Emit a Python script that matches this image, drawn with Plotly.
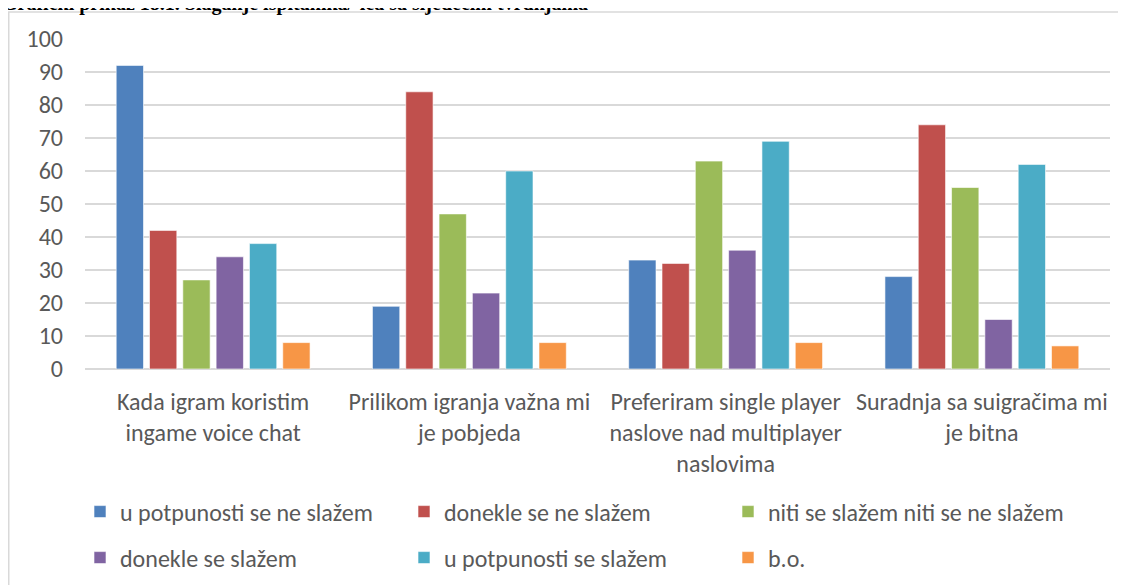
import plotly.graph_objects as go

categories = [
    "Kada igram koristim<br>ingame voice chat",
    "Prilikom igranja važna mi<br>je pobjeda",
    "Preferiram single player<br>naslove nad multiplayer<br>naslovima",
    "Suradnja sa suigračima mi<br>je bitna",
]
series_names = [
    "u potpunosti se ne slažem",
    "donekle se ne slažem",
    "niti se slažem niti se ne slažem",
    "donekle se slažem",
    "u potpunosti se slažem",
    "b.o.",
]
values_u_potpunosti_ne = [92, 19, 33, 28]
values_donekle_ne = [42, 84, 32, 74]
values_niti_niti = [27, 47, 63, 55]
values_donekle_da = [34, 23, 36, 15]
values_u_potpunosti_da = [38, 60, 69, 62]
values_bo = [8, 8, 8, 7]
y_ticks = [0, 10, 20, 30, 40, 50, 60, 70, 80, 90, 100]
title_text = "Grafički prikaz 18.1. Slaganje ispitanika/-ica sa sljedećim tvrdnjama"

all_values = [values_u_potpunosti_ne, values_donekle_ne, values_niti_niti,
              values_donekle_da, values_u_potpunosti_da, values_bo]
colors = ["#4F81BD", "#C0504D", "#9BBB59", "#8064A2", "#4BACC6", "#F79646"]

FONT = "Carlito, 'Liberation Sans Narrow', 'Arial Narrow', Roboto, sans-serif"
GRAY = "#595959"

# page is offset by the 8px body margin; figure coordinates below are page px - 8
W, H = 1118, 577
L, R, T, B = 77, 16, 31, 216
plot_h = H - T - B
plot_w = W - L - R


def py(p):  # figure pixel y -> paper
    return (H - B - p) / plot_h


def px(p):  # figure pixel x -> paper
    return (p - L) / plot_w


legend_cols = [72, 396, 720]
legend_rows = [504, 550]

fig = go.Figure()
legend_layouts = {}
for i, (name, vals, col) in enumerate(zip(series_names, all_values, colors)):
    key = "legend" if i == 0 else f"legend{i + 1}"
    fig.add_trace(go.Bar(
        x=categories, y=vals, name=name,
        marker=dict(color=col, line=dict(color="rgba(255,255,255,0.6)", width=1)),
        legend=key,
    ))
    legend_layouts[key] = dict(
        x=px(legend_cols[i % 3]), xanchor="left",
        y=py(legend_rows[i // 3]), yanchor="middle",
        font=dict(family=FONT, size=24, color=GRAY),
        itemclick=False, itemdoubleclick=False, bgcolor="rgba(0,0,0,0)",
    )

fig.update_layout(
    width=W, height=H,
    margin=dict(l=L, r=R, t=T, b=B, autoexpand=False),
    paper_bgcolor="white", plot_bgcolor="white",
    barmode="group", bargap=0.22, bargroupgap=0.18,
    font=dict(family=FONT, size=24, color=GRAY),
    xaxis=dict(showline=False, showgrid=False, ticks="", tickfont=dict(size=24, color=GRAY),
               ticklabelstandoff=16),
    yaxis=dict(range=[0, 100], tickvals=y_ticks, showgrid=True, gridcolor="#D9D9D9",
               gridwidth=1.5, zeroline=True, zerolinecolor="#D9D9D9", zerolinewidth=1.5,
               showline=False, ticks="", ticklabelstandoff=21,
               tickfont=dict(size=24, color=GRAY)),
    showlegend=True,
    **legend_layouts,
)

# outer chart border
fig.add_shape(type="rect", xref="paper", yref="paper",
              x0=px(0.75), x1=px(1140),
              y0=py(600), y1=py(4),
              line=dict(color="#D9D9D9", width=1.5), fillcolor="rgba(0,0,0,0)", layer="below")

# document caption above the chart, clipped at the top as in the source
fig.add_annotation(text="<b>" + title_text + "</b>", xref="paper", yref="paper",
                   x=px(-8), xanchor="left",
                   y=py(8.5), yanchor="bottom", showarrow=False,
                   font=dict(family="'Liberation Serif', 'Times New Roman', serif", size=20, color="black"))

fig.write_html("out.html")
